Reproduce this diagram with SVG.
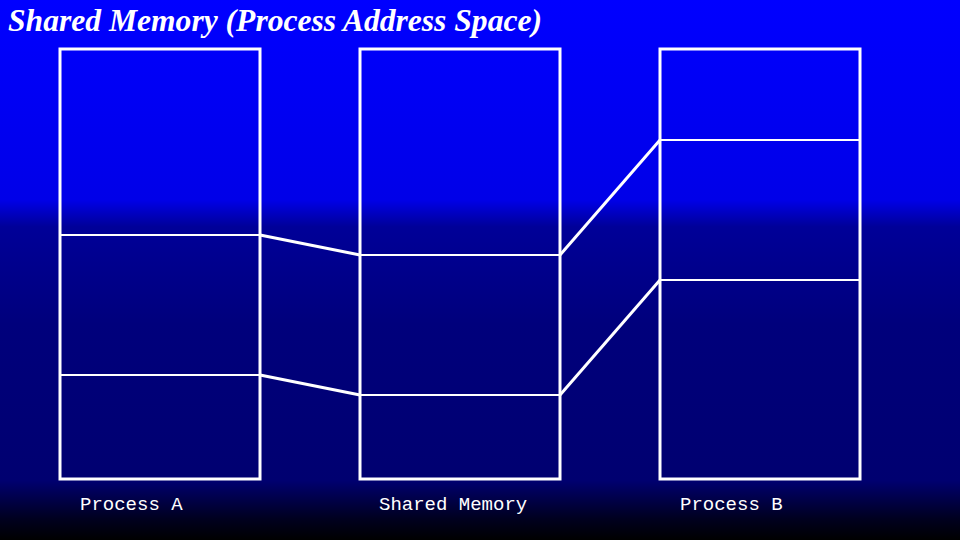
<svg xmlns="http://www.w3.org/2000/svg" width="960" height="540" viewBox="0 0 960 540">
<defs>
<linearGradient id="bg" x1="0" y1="0" x2="0" y2="1">
<stop offset="0" stop-color="#0000ff"/>
<stop offset="0.37" stop-color="#0000e8"/>
<stop offset="0.42" stop-color="#000098"/>
<stop offset="0.6" stop-color="#00007c"/>
<stop offset="0.89" stop-color="#000070"/>
<stop offset="0.96" stop-color="#000020"/>
<stop offset="1" stop-color="#000000"/>
</linearGradient>
<style>
.box{fill:none;stroke:#fff;stroke-width:3}
.div{stroke:#fff;stroke-width:2}
.conn{stroke:#fff;stroke-width:3;fill:none}
.lbl{font-family:"Liberation Mono","DejaVu Sans Mono",monospace;font-size:19px;fill:#fff}
.title{font-family:"Liberation Serif","Times New Roman",serif;font-size:31px;font-weight:bold;font-style:italic;fill:#fff}
</style>
</defs>
<rect width="960" height="540" fill="url(#bg)"/>
<text class="title" x="8" y="31" textLength="534" lengthAdjust="spacingAndGlyphs">Shared Memory (Process Address Space)</text>
<g id="processA">
<rect class="box" x="60" y="49" width="200" height="430"/>
<line class="div" x1="60" y1="235" x2="260" y2="235"/>
<line class="div" x1="60" y1="375" x2="260" y2="375"/>
<text class="lbl" x="80" y="510">Process A</text>
</g>
<g id="sharedMemory">
<rect class="box" x="360" y="49" width="200" height="430"/>
<line class="div" x1="360" y1="255" x2="560" y2="255"/>
<line class="div" x1="360" y1="395" x2="560" y2="395"/>
<text class="lbl" x="379" y="510">Shared Memory</text>
</g>
<g id="processB">
<rect class="box" x="660" y="49" width="200" height="430"/>
<line class="div" x1="660" y1="140" x2="860" y2="140"/>
<line class="div" x1="660" y1="280" x2="860" y2="280"/>
<text class="lbl" x="680" y="510">Process B</text>
</g>
<g id="connectors">
<line class="conn" x1="260" y1="235" x2="360" y2="255"/>
<line class="conn" x1="260" y1="375" x2="360" y2="395"/>
<line class="conn" x1="560" y1="255" x2="660" y2="140"/>
<line class="conn" x1="560" y1="395" x2="660" y2="280"/>
</g>
</svg>
